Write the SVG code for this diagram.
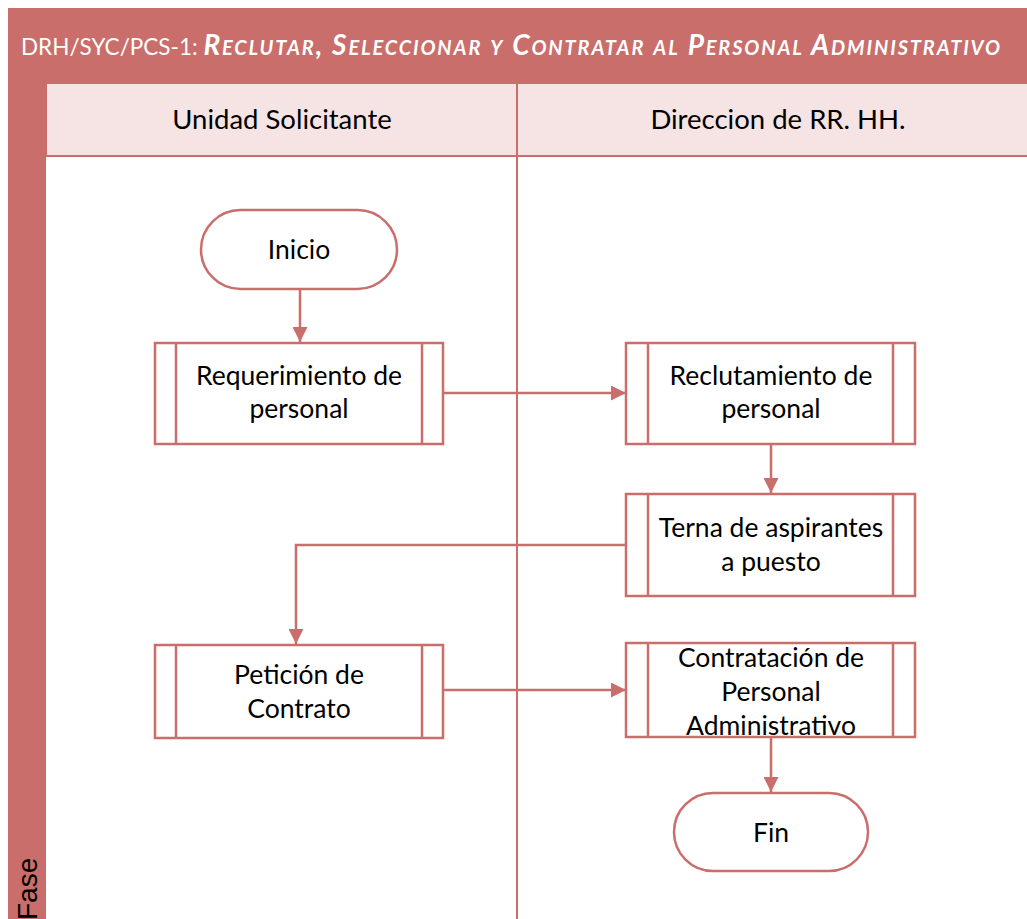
<svg xmlns="http://www.w3.org/2000/svg" width="1027" height="919" viewBox="0 0 1027 919">
  <defs>
    <style>
      .band { fill: #C96E6B; }
      .hdr { fill: #F6E4E4; stroke: #C96E6B; stroke-width: 2; }
      .lane { fill: none; stroke: #C96E6B; stroke-width: 2; }
      .shape { fill: #FFFFFF; stroke: #C96E6B; stroke-width: 2.5; }
      .conn { fill: none; stroke: #C96E6B; stroke-width: 2.5; }
      .lbl { font-family: Lato, "Open Sans", sans-serif; font-size: 26.5px; fill: #000000; text-anchor: middle; }
      .hlbl { font-family: Lato, "Open Sans", sans-serif; font-size: 27.5px; fill: #000000; text-anchor: middle; }
      .title { font-family: Lato, "Open Sans", sans-serif; font-size: 22.5px; fill: #FFFFFF; }
      .fase { font-family: "Liberation Sans", Arial, sans-serif; font-size: 28px; fill: #000000; }
    </style>
    <marker id="arrow" viewBox="0 0 10 10" refX="10" refY="5" markerWidth="6" markerHeight="6" markerUnits="strokeWidth" orient="auto">
      <path d="M0,0 L10,5 L0,10 Z" fill="#C96E6B"/>
    </marker>
  </defs>

  <rect width="1027" height="919" fill="#FFFFFF"/>

  <!-- pool frame: title bar and phase band -->
  <g id="pool">
    <rect class="band" x="8" y="8" width="1019" height="75"/>
    <rect class="band" x="8" y="83" width="38" height="836"/>
    <text class="title" x="21" y="55">DRH/SYC/PCS-1: <tspan font-size="28" font-weight="bold" font-style="italic" font-variant="small-caps" letter-spacing="1.85">Reclutar, Seleccionar y Contratar al Personal Administrativo</tspan></text>
    <text class="fase" transform="translate(37,920) rotate(-90)">Fase</text>
  </g>

  <!-- swimlanes -->
  <g id="lanes">
    <rect class="hdr" x="46" y="83" width="990" height="73"/>
    <line class="lane" x1="517" y1="83" x2="517" y2="919"/>
    <text class="hlbl" x="282" y="129">Unidad Solicitante</text>
    <text class="hlbl" x="778" y="129">Direccion de RR. HH.</text>
  </g>

  <!-- connectors -->
  <g id="connectors">
    <line class="conn" x1="300" y1="289" x2="300" y2="342" marker-end="url(#arrow)"/>
    <line class="conn" x1="443" y1="393" x2="626" y2="393" marker-end="url(#arrow)"/>
    <line class="conn" x1="771" y1="444" x2="771" y2="493" marker-end="url(#arrow)"/>
    <polyline class="conn" points="626,545 296,545 296,644" marker-end="url(#arrow)"/>
    <line class="conn" x1="443" y1="690" x2="626" y2="690" marker-end="url(#arrow)"/>
    <line class="conn" x1="771" y1="737" x2="771" y2="792" marker-end="url(#arrow)"/>
  </g>

  <g id="inicio">
    <rect class="shape" x="201" y="210" width="196" height="79" rx="39.5"/>
    <text class="lbl" x="299" y="259">Inicio</text>
  </g>

  <g id="requerimiento">
    <rect class="shape" x="155" y="343" width="288" height="101"/>
    <line class="shape" x1="176" y1="343" x2="176" y2="444"/>
    <line class="shape" x1="422" y1="343" x2="422" y2="444"/>
    <text class="lbl" x="299" y="385">Requerimiento de</text>
    <text class="lbl" x="299" y="418">personal</text>
  </g>

  <g id="reclutamiento">
    <rect class="shape" x="626" y="343" width="289" height="101"/>
    <line class="shape" x1="648" y1="343" x2="648" y2="444"/>
    <line class="shape" x1="893" y1="343" x2="893" y2="444"/>
    <text class="lbl" x="771" y="385">Reclutamiento de</text>
    <text class="lbl" x="771" y="418">personal</text>
  </g>

  <g id="terna">
    <rect class="shape" x="626" y="494" width="289" height="102"/>
    <line class="shape" x1="648" y1="494" x2="648" y2="596"/>
    <line class="shape" x1="893" y1="494" x2="893" y2="596"/>
    <text class="lbl" x="771" y="537">Terna de aspirantes</text>
    <text class="lbl" x="771" y="571">a puesto</text>
  </g>

  <g id="peticion">
    <rect class="shape" x="155" y="645" width="288" height="93"/>
    <line class="shape" x1="176" y1="645" x2="176" y2="738"/>
    <line class="shape" x1="422" y1="645" x2="422" y2="738"/>
    <text class="lbl" x="299" y="684">Petición de</text>
    <text class="lbl" x="299" y="718">Contrato</text>
  </g>

  <g id="contratacion">
    <rect class="shape" x="626" y="643" width="289" height="94"/>
    <line class="shape" x1="648" y1="643" x2="648" y2="737"/>
    <line class="shape" x1="893" y1="643" x2="893" y2="737"/>
    <text class="lbl" x="771" y="667">Contratación de</text>
    <text class="lbl" x="771" y="701">Personal</text>
    <text class="lbl" x="771" y="735">Administrativo</text>
  </g>

  <g id="fin">
    <rect class="shape" x="674" y="793" width="194" height="78" rx="39"/>
    <text class="lbl" x="771" y="842">Fin</text>
  </g>
</svg>
